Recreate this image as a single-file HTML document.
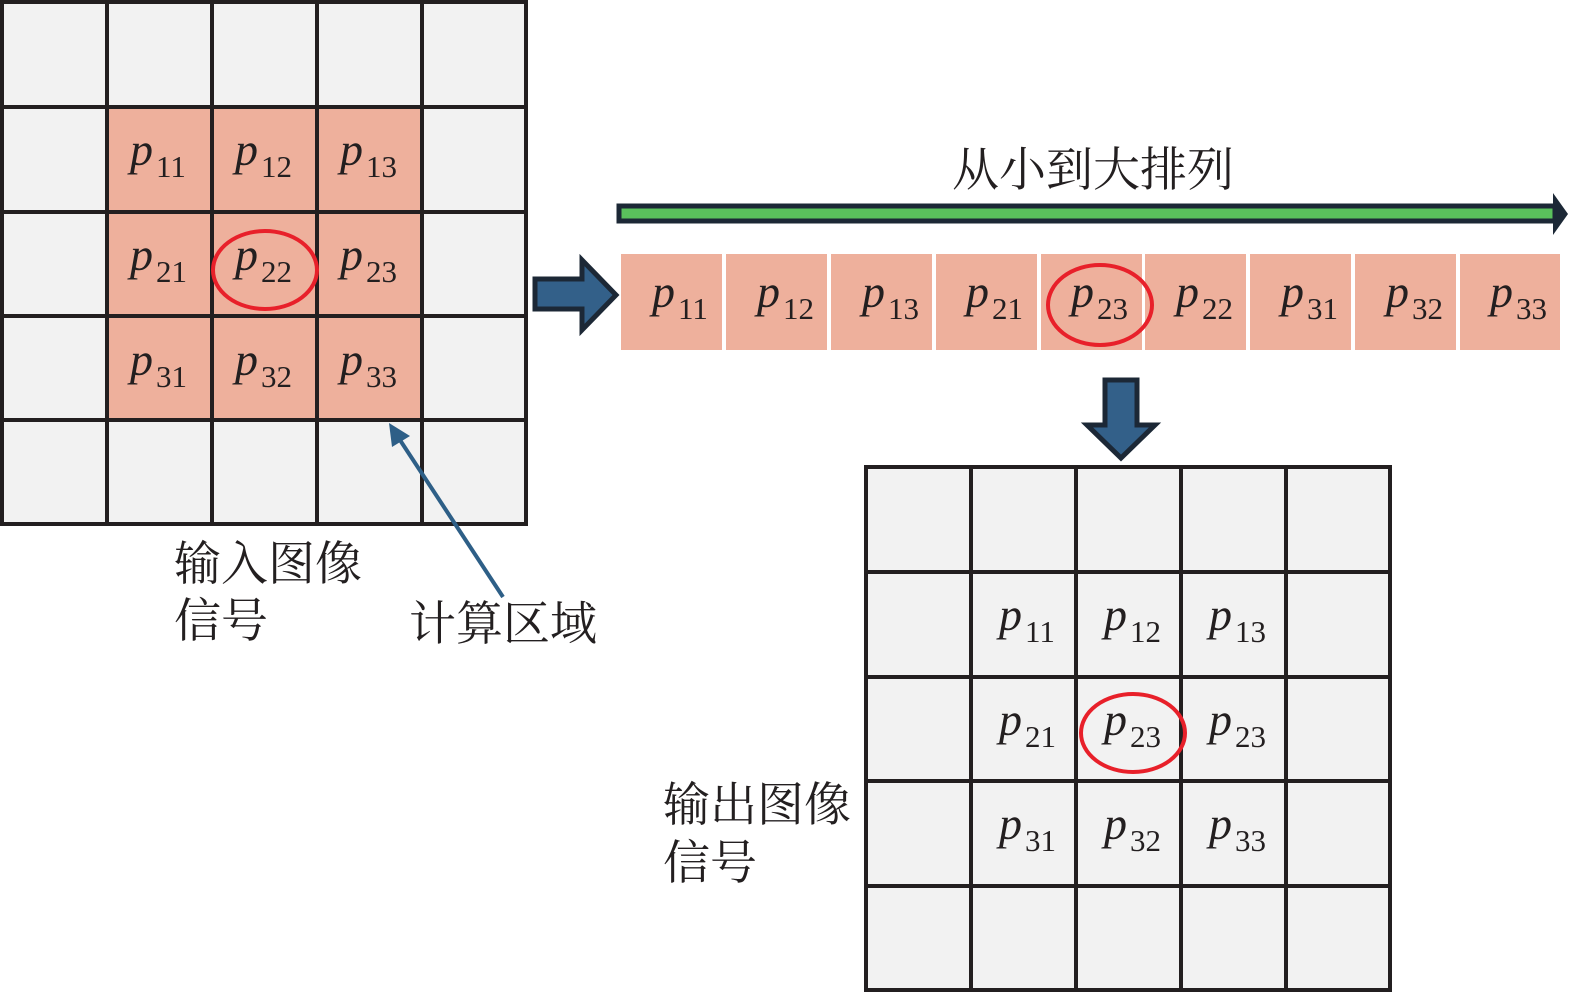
<!DOCTYPE html>
<html><head><meta charset="utf-8"><style>
html,body{margin:0;padding:0;background:#fff;}
svg{display:block}
.p{font-family:"Liberation Serif",serif;font-style:italic;font-size:46px;fill:#231f20}
.s{font-family:"Liberation Serif",serif;font-size:31px;fill:#231f20}
.c{font-family:"Liberation Serif","Noto Serif CJK SC",serif;font-size:47px;fill:#231f20}
</style></head><body>
<svg width="1575" height="997" viewBox="0 0 1575 997" xmlns="http://www.w3.org/2000/svg">
<!-- left grid -->
<rect x="2" y="2" width="524" height="522" fill="#f2f2f2"/>
<rect x="107" y="107" width="315" height="313" fill="#eeb09c"/>
<g stroke="#231f20" stroke-width="4" fill="none">
<rect x="2" y="2" width="524" height="522"/>
<line x1="107" y1="2" x2="107" y2="524"/><line x1="212" y1="2" x2="212" y2="524"/><line x1="317" y1="2" x2="317" y2="524"/><line x1="422" y1="2" x2="422" y2="524"/>
<line x1="2" y1="107" x2="526" y2="107"/><line x1="2" y1="212" x2="526" y2="212"/><line x1="2" y1="316" x2="526" y2="316"/><line x1="2" y1="420" x2="526" y2="420"/>
</g>
<g>
<text x="130" y="165"><tspan class="p">p</tspan><tspan class="s" dx="3" dy="12">11</tspan></text>
<text x="235" y="165"><tspan class="p">p</tspan><tspan class="s" dx="3" dy="12">12</tspan></text>
<text x="340" y="165"><tspan class="p">p</tspan><tspan class="s" dx="3" dy="12">13</tspan></text>
<text x="130" y="270"><tspan class="p">p</tspan><tspan class="s" dx="3" dy="12">21</tspan></text>
<text x="235" y="270"><tspan class="p">p</tspan><tspan class="s" dx="3" dy="12">22</tspan></text>
<text x="340" y="270"><tspan class="p">p</tspan><tspan class="s" dx="3" dy="12">23</tspan></text>
<text x="130" y="375"><tspan class="p">p</tspan><tspan class="s" dx="3" dy="12">31</tspan></text>
<text x="235" y="375"><tspan class="p">p</tspan><tspan class="s" dx="3" dy="12">32</tspan></text>
<text x="340" y="375"><tspan class="p">p</tspan><tspan class="s" dx="3" dy="12">33</tspan></text>
</g>
<ellipse cx="265" cy="270" rx="52" ry="39" fill="none" stroke="#e8202a" stroke-width="4"/>
<!-- pointer -->
<line x1="503" y1="597" x2="398" y2="437" stroke="#2e5f87" stroke-width="4"/>
<polygon points="389,423 410,436 392,447" fill="#2e5f87"/>
<text class="c" x="174" y="580">输入图像</text>
<text class="c" x="174" y="637">信号</text>
<text class="c" x="409" y="640">计算区域</text>
<!-- right arrow -->
<polygon points="535,279 582,279 582,260 616,295 582,330 582,309 535,309" fill="#336089" stroke="#1c2836" stroke-width="5" stroke-linejoin="miter"/>
<!-- green bar -->
<rect x="619" y="206" width="936" height="15" fill="#5ac15c" stroke="#1c2836" stroke-width="5"/>
<polygon points="1553,193 1568,214 1553,235" fill="#1c2836"/>
<text class="c" x="952" y="186" font-size="48">从小到大排列</text>
<!-- strip -->
<g fill="#eeb09c">
<rect x="621" y="254" width="101" height="96"/><rect x="726" y="254" width="101" height="96"/><rect x="831" y="254" width="101" height="96"/>
<rect x="936" y="254" width="101" height="96"/><rect x="1041" y="254" width="101" height="96"/><rect x="1145" y="254" width="101" height="96"/>
<rect x="1250" y="254" width="101" height="96"/><rect x="1355" y="254" width="101" height="96"/><rect x="1460" y="254" width="100" height="96"/>
</g>
<g>
<text x="652" y="307"><tspan class="p">p</tspan><tspan class="s" dx="3" dy="12">11</tspan></text>
<text x="757" y="307"><tspan class="p">p</tspan><tspan class="s" dx="3" dy="12">12</tspan></text>
<text x="862" y="307"><tspan class="p">p</tspan><tspan class="s" dx="3" dy="12">13</tspan></text>
<text x="966" y="307"><tspan class="p">p</tspan><tspan class="s" dx="3" dy="12">21</tspan></text>
<text x="1071" y="307"><tspan class="p">p</tspan><tspan class="s" dx="3" dy="12">23</tspan></text>
<text x="1176" y="307"><tspan class="p">p</tspan><tspan class="s" dx="3" dy="12">22</tspan></text>
<text x="1281" y="307"><tspan class="p">p</tspan><tspan class="s" dx="3" dy="12">31</tspan></text>
<text x="1386" y="307"><tspan class="p">p</tspan><tspan class="s" dx="3" dy="12">32</tspan></text>
<text x="1490" y="307"><tspan class="p">p</tspan><tspan class="s" dx="3" dy="12">33</tspan></text>
</g>
<ellipse cx="1100" cy="305" rx="52" ry="40" fill="none" stroke="#e8202a" stroke-width="4"/>
<!-- down arrow -->
<polygon points="1105,380 1137,380 1137,425 1155,425 1121,458 1087,425 1105,425" fill="#336089" stroke="#1c2836" stroke-width="5"/>
<!-- right grid -->
<rect x="866" y="467" width="524" height="523" fill="#f2f2f2"/>
<g stroke="#231f20" stroke-width="4" fill="none">
<rect x="866" y="467" width="524" height="523"/>
<line x1="971" y1="467" x2="971" y2="990"/><line x1="1076" y1="467" x2="1076" y2="990"/><line x1="1181" y1="467" x2="1181" y2="990"/><line x1="1286" y1="467" x2="1286" y2="990"/>
<line x1="866" y1="572" x2="1390" y2="572"/><line x1="866" y1="677" x2="1390" y2="677"/><line x1="866" y1="781" x2="1390" y2="781"/><line x1="866" y1="886" x2="1390" y2="886"/>
</g>
<g>
<text x="999" y="630"><tspan class="p">p</tspan><tspan class="s" dx="3" dy="12">11</tspan></text>
<text x="1104" y="630"><tspan class="p">p</tspan><tspan class="s" dx="3" dy="12">12</tspan></text>
<text x="1209" y="630"><tspan class="p">p</tspan><tspan class="s" dx="3" dy="12">13</tspan></text>
<text x="999" y="735"><tspan class="p">p</tspan><tspan class="s" dx="3" dy="12">21</tspan></text>
<text x="1104" y="735"><tspan class="p">p</tspan><tspan class="s" dx="3" dy="12">23</tspan></text>
<text x="1209" y="735"><tspan class="p">p</tspan><tspan class="s" dx="3" dy="12">23</tspan></text>
<text x="999" y="839"><tspan class="p">p</tspan><tspan class="s" dx="3" dy="12">31</tspan></text>
<text x="1104" y="839"><tspan class="p">p</tspan><tspan class="s" dx="3" dy="12">32</tspan></text>
<text x="1209" y="839"><tspan class="p">p</tspan><tspan class="s" dx="3" dy="12">33</tspan></text>
</g>
<ellipse cx="1133" cy="733" rx="52" ry="39" fill="none" stroke="#e8202a" stroke-width="4"/>
<text class="c" x="663" y="821">输出图像</text>
<text class="c" x="663" y="879">信号</text>
</svg>
</body></html>
